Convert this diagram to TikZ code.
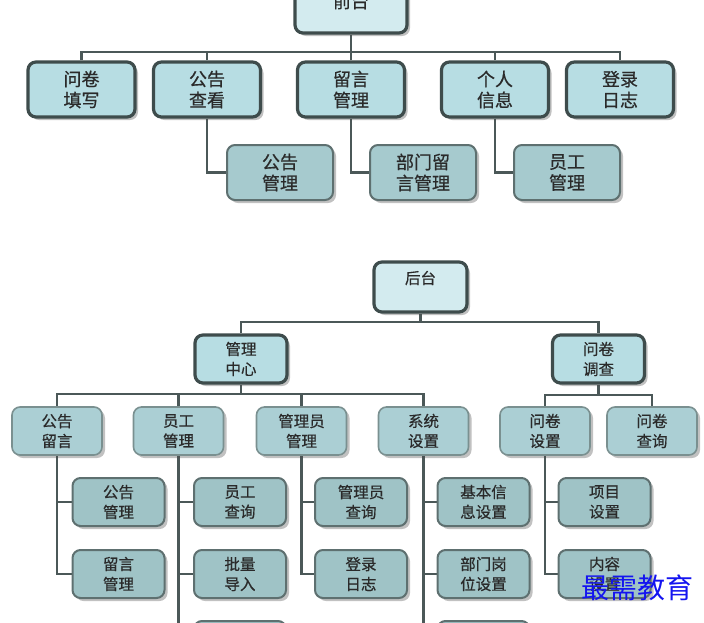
\documentclass[tikz,border=0pt]{standalone}
\usepackage{fontspec}
\newfontfamily\cjk[FakeBold=0.6]{Noto Sans CJK SC}
\newfontfamily\cjkwm{Noto Sans CJK SC}
\usetikzlibrary{shadows,backgrounds}
\definecolor{bd}{HTML}{3E4C4C}
\definecolor{bdthin}{HTML}{5E7070}
\definecolor{bdlite}{HTML}{7A9090}
\definecolor{fa}{HTML}{D3EBEF}
\definecolor{fb}{HTML}{B7DDE3}
\definecolor{fc}{HTML}{A6CACE}
\definecolor{fl}{HTML}{ABCFD4}
\definecolor{fd}{HTML}{9FC3C6}
\definecolor{ln}{HTML}{4B5858}
\definecolor{tx}{HTML}{2A2A2A}
\definecolor{wm}{HTML}{1414F0}
\tikzset{
  ftop/.style={font=\cjk\fontsize{18}{21}\selectfont},
  fbot/.style={font=\cjk\fontsize{15.5}{20}\selectfont},
  shad/.style={drop shadow={shadow xshift=3pt, shadow yshift=-3pt, opacity=0.35, fill=black!70}},
  boxbase/.style={rounded corners=8pt, align=center, text=tx, inner sep=0pt, shad},
  thickbox/.style={boxbase, draw=bd, line width=3.2pt},
  thinbox/.style={boxbase, draw=bdthin, line width=2pt},
  litebox/.style={boxbase, draw=bdlite, line width=1.6pt},
  topA/.style={thickbox, fill=fa, minimum width=112pt, minimum height=54pt},
  topB/.style={thickbox, fill=fb, minimum width=107pt, minimum height=55pt, ftop},
  topC/.style={thinbox, fill=fc, minimum width=106pt, minimum height=55pt, ftop},
  botA/.style={thickbox, fill=fa, minimum width=93pt, minimum height=50pt},
  botB/.style={thickbox, fill=fb, minimum width=92pt, minimum height=48pt, fbot},
  botC/.style={litebox, fill=fl, minimum width=90pt, minimum height=48pt, fbot},
  botD/.style={thinbox, fill=fd, minimum width=92pt, minimum height=48pt, fbot},
  conn/.style={draw=ln, line width=2.6pt},
  plain/.style={text=tx, inner sep=0pt}
}
\begin{document}
\begin{tikzpicture}[x=1pt,y=-1pt]
\useasboundingbox (0,0) rectangle (704,622);
\clip (0,0) rectangle (704,622);

% ---------- front end ----------
\node[topA] (qt) at (351,6) {};
\node[plain, ftop] (qtt) at (351,1) {前台};

\node[topB] (wjtx) at (81.5,89.5) {问卷\\填写};
\node[topB] (ggck) at (207,89.5) {公告\\查看};
\node[topB] (lygl) at (351,89.5) {留言\\管理};
\node[topB] (grxx) at (495,89.5) {个人\\信息};
\node[topB] (dlrz) at (620,89.5) {登录\\日志};

\node[topC] (gggl) at (280,172.5) {公告\\管理};
\node[topC] (bmly) at (423,172.5) {部门留\\言管理};
\node[topC] (yggl) at (567,172.5) {员工\\管理};

% ---------- back end ----------
\node[botA] (ht) at (420.5,287) {};
\node[plain, fbot] (htt) at (420.5,278) {后台};

\node[botB] (glzx) at (241,359) {管理\\中心};
\node[botB] (wjdc) at (598.5,359) {问卷\\调查};

\node[botC] (ggly) at (57,431) {公告\\留言};
\node[botC] (ygm) at (178.5,431) {员工\\管理};
\node[botC] (glym) at (301.5,431) {管理员\\管理};
\node[botC] (xtsz) at (423.5,431) {系统\\设置};
\node[botC] (wjsz) at (545,431) {问卷\\设置};
\node[botC] (wjcx) at (652,431) {问卷\\查询};

\node[botD] (gg3) at (118.5,502) {公告\\管理};
\node[botD] (ly3) at (118.5,574) {留言\\管理};
\node[botD] (ygcx) at (240,502) {员工\\查询};
\node[botD] (pldr) at (240,574) {批量\\导入};
\node[botD] (ygx) at (240,645) {};
\node[botD] (glycx) at (361,502) {管理员\\查询};
\node[botD] (dlrz3) at (361,574) {登录\\日志};
\node[botD] (jbxx) at (483.5,502) {基本信\\息设置};
\node[botD] (bmgw) at (483.5,574) {部门岗\\位设置};
\node[botD] (xtx) at (483.5,645) {};
\node[botD] (xmsz) at (604.5,502) {项目\\设置};
\node[botD] (nrsz) at (604.5,574) {内容\\设置};

% ---------- connectors ----------
\begin{pgfonlayer}{background}
\coordinate (b1) at (351,52);
\draw[conn] (qt.south) -- (b1);
\draw[conn] (wjtx.north) |- (b1) -| (dlrz.north);
\draw[conn] (ggck.north) -- (ggck.north |- b1);
\draw[conn] (lygl.north) -- (b1);
\draw[conn] (grxx.north) -- (grxx.north |- b1);
\draw[conn] (ggck.south) |- (gggl.west);
\draw[conn] (lygl.south) |- (bmly.west);
\draw[conn] (grxx.south) |- (yggl.west);

\coordinate (b2) at (420.5,322);
\draw[conn] (ht.south) -- (b2);
\draw[conn] (glzx.north) |- (b2) -| (wjdc.north);
\coordinate (b3) at (241,394);
\draw[conn] (glzx.south) -- (b3);
\draw[conn] (ggly.north) |- (b3) -| (xtsz.north);
\draw[conn] (ygm.north) -- (ygm.north |- b3);
\draw[conn] (glym.north) -- (glym.north |- b3);
\coordinate (b4) at (598.5,395);
\draw[conn] (wjdc.south) -- (b4);
\draw[conn] (wjsz.north) |- (b4) -| (wjcx.north);

\draw[conn] (ggly.south) |- (gg3.west);
\draw[conn] (ggly.south) |- (ly3.west);
\draw[conn] (ygm.south) |- (ygcx.west);
\draw[conn] (ygm.south) |- (pldr.west);
\draw[conn] (ygm.south) |- (ygx.west);
\draw[conn] (glym.south) |- (glycx.west);
\draw[conn] (glym.south) |- (dlrz3.west);
\draw[conn] (xtsz.south) |- (jbxx.west);
\draw[conn] (xtsz.south) |- (bmgw.west);
\draw[conn] (xtsz.south) |- (xtx.west);
\draw[conn] (wjsz.south) |- (xmsz.west);
\draw[conn] (wjsz.south) |- (nrsz.west);
\end{pgfonlayer}

% watermark
\node[text=wm, inner sep=0pt, font=\cjkwm\fontsize{28}{30}\selectfont] (wmark) at (637,588) {最需教育};
\end{tikzpicture}
\end{document}
